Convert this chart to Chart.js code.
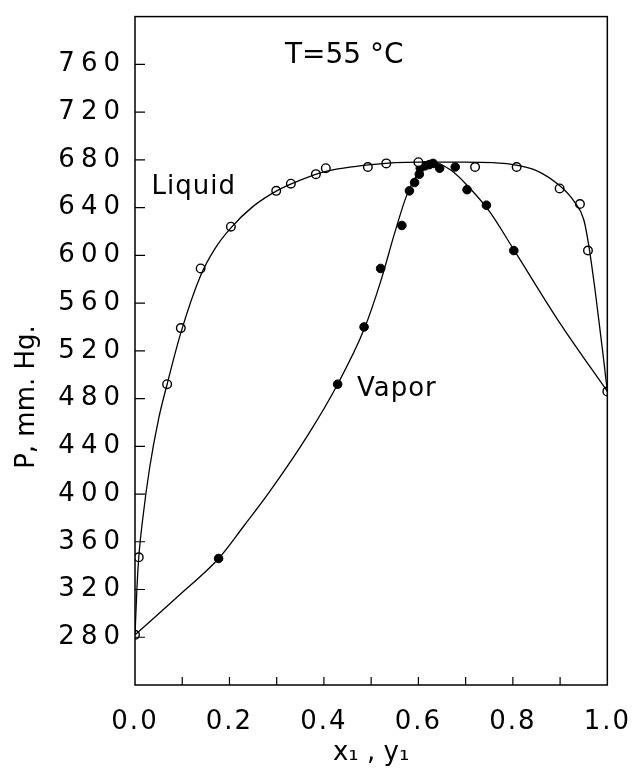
<!DOCTYPE html>
<html>
<head>
<meta charset="utf-8">
<script src="https://cdn.jsdelivr.net/npm/chart.js@4/dist/chart.umd.min.js"></script>
<style>
  body { margin: 0; background: #fff; }
  canvas { display: block; }
</style>
</head>
<body>
<canvas id="vleChart" width="642" height="769"></canvas>
<script>
// measured points, T = 55 C
const liquidX = [0.0, 0.008, 0.068, 0.097, 0.139, 0.203, 0.299, 0.330, 0.383, 0.404, 0.493, 0.532, 0.600, 0.720, 0.808, 0.899, 0.942, 0.959, 1.0];
const liquidP = [282, 347, 492, 539, 589, 624, 654, 660, 668, 673, 674, 677, 678, 674, 674, 656, 643, 604, 486];

const vaporX = [0.177, 0.429, 0.485, 0.520, 0.565, 0.581, 0.592, 0.602, 0.604, 0.614, 0.623, 0.631, 0.645, 0.678, 0.703, 0.744, 0.802];
const vaporP = [346, 492, 540, 589, 625, 654, 661, 668, 673, 675, 676, 677, 673, 674, 655, 642, 604];

// drawn curves
const liquidCurveX = [0.0, 0.004, 0.008, 0.016, 0.031, 0.05, 0.068, 0.097, 0.139, 0.17, 0.203, 0.25, 0.30, 0.35, 0.40, 0.50, 0.60, 0.70, 0.80, 0.85, 0.90, 0.93, 0.95, 0.96, 0.975, 0.99, 1.0];
const liquidCurveP = [282, 320, 347, 378, 422, 463, 492, 535, 583, 606, 623, 641, 654, 663, 670, 676, 678, 678, 676, 671, 658, 645, 630, 610, 568, 520, 486];

const vaporCurveX = [0.0, 0.09, 0.177, 0.23, 0.285, 0.367, 0.429, 0.485, 0.52, 0.55, 0.575, 0.595, 0.615, 0.632, 0.645, 0.67, 0.70, 0.75, 0.80, 0.90, 1.0];
const vaporCurveP = [282, 314, 346, 373, 402, 450, 492, 538, 578, 619, 650, 666, 675, 677.5, 676.5, 671, 660, 637, 606, 543, 486];

const xTickLabels = ['0.0', '0.2', '0.4', '0.6', '0.8', '1.0'];
const yTickLabels = [280, 320, 360, 400, 440, 480, 520, 560, 600, 640, 680, 720, 760];

const FONT = "'DejaVu Sans', sans-serif";

function toPoints(xs, ys) {
    return xs.map((x, i) => ({ x: x, y: ys[i] }));
}

// box, inward ticks, labels inside the plot
const framePlugin = {
    id: 'frame',
    beforeDraw(chart) {
        // letter spacing for tick labels (set once per scale)
        ['x', 'y'].forEach(function(id) {
            const s = chart.scales[id];
            if (!s || s._spaced) return;
            const orig = s.drawLabels;
            const sp = id === 'y' ? '6px' : '2px';
            s.drawLabels = function(area) {
                chart.ctx.save();
                chart.ctx.letterSpacing = sp;
                orig.call(this, area);
                chart.ctx.restore();
            };
            s._spaced = true;
        });
    },
    afterDraw(chart) {
        const ctx = chart.ctx;
        const a = chart.chartArea;
        const xs = chart.scales.x, ys = chart.scales.y;
        ctx.save();
        ctx.strokeStyle = '#000';
        ctx.lineWidth = 1.5;
        ctx.strokeRect(a.left, a.top, a.right - a.left, a.bottom - a.top);

        ctx.lineWidth = 1.2;
        ctx.beginPath();
        for (let i = 1; i < 10; i++) {
            const px = xs.getPixelForValue(i / 10);
            ctx.moveTo(px, a.bottom);
            ctx.lineTo(px, a.bottom - 8);
        }
        yTickLabels.forEach(function(v) {
            const py = ys.getPixelForValue(v);
            ctx.moveTo(a.left, py);
            ctx.lineTo(a.left + 10, py);
        });
        ctx.stroke();

        ctx.fillStyle = '#000';
        ctx.textBaseline = 'middle';

        ctx.font = '28px ' + FONT;
        ctx.textAlign = 'center';
        ctx.fillText('T=55 °C', xs.getPixelForValue(0.443), ys.getPixelForValue(767));

        ctx.font = '26px ' + FONT;
        ctx.textAlign = 'left';
        ctx.letterSpacing = '1px';
        ctx.fillText('Liquid', xs.getPixelForValue(0.035), ys.getPixelForValue(657));
        ctx.fillText('Vapor', xs.getPixelForValue(0.47), ys.getPixelForValue(488));
        ctx.letterSpacing = '0px';

        // y axis title, sits below the middle of the axis in the figure
        ctx.translate(27, 397);
        ctx.rotate(-Math.PI / 2);
        ctx.textAlign = 'center';
        ctx.font = '26px ' + FONT;
        ctx.fillText('P, mm. Hg.', 0, 0);
        ctx.restore();
    }
};

const ctx = document.getElementById('vleChart').getContext('2d');
const vleChart = new Chart(ctx, {
    type: 'scatter',
    data: {
        datasets: [
            {
                label: 'Liquid curve',
                data: toPoints(liquidCurveX, liquidCurveP),
                showLine: true,
                borderColor: '#000',
                borderWidth: 1.3,
                pointRadius: 0,
                cubicInterpolationMode: 'monotone'
            },
            {
                label: 'Vapor curve',
                data: toPoints(vaporCurveX, vaporCurveP),
                showLine: true,
                borderColor: '#000',
                borderWidth: 1.3,
                pointRadius: 0,
                cubicInterpolationMode: 'monotone'
            },
            {
                label: 'Liquid',
                data: toPoints(liquidX, liquidP),
                showLine: false,
                pointRadius: 4.3,
                pointBorderWidth: 1.4,
                pointBackgroundColor: '#fff',
                pointBorderColor: '#000'
            },
            {
                label: 'Vapor',
                data: toPoints(vaporX, vaporP),
                showLine: false,
                pointRadius: 4.3,
                pointBorderWidth: 1,
                pointBackgroundColor: '#000',
                pointBorderColor: '#000'
            }
        ]
    },
    options: {
        responsive: false,
        animation: false,
        layout: { padding: { top: 13, right: 22, left: 0, bottom: 0 } },
        plugins: {
            legend: { display: false },
            tooltip: { enabled: false }
        },
        scales: {
            x: {
                type: 'linear',
                min: 0,
                max: 1,
                afterFit: function(scale) { scale.height = 84; },
                grid: { display: false },
                border: { display: false },
                ticks: {
                    stepSize: 0.2,
                    padding: 14,
                    color: '#000',
                    font: { family: FONT, size: 26 },
                    maxRotation: 0,
                    autoSkip: false,
                    callback: function(v) {
                        return xTickLabels[Math.round(v * 5)];
                    }
                },
                title: {
                    display: true,
                    text: 'x\u2081 , y\u2081',
                    color: '#000',
                    font: { family: FONT, size: 26 },
                    padding: { top: 6, bottom: 0 }
                }
            },
            y: {
                type: 'linear',
                min: 240,
                max: 800,
                afterFit: function(scale) { scale.width = 135; },
                grid: { display: false },
                border: { display: false },
                ticks: {
                    stepSize: 40,
                    padding: 1,
                    color: '#000',
                    font: { family: FONT, size: 26 },
                    autoSkip: false,
                    callback: function(v) {
                        return yTickLabels.indexOf(v) >= 0 ? String(v) : '';
                    }
                }
            }
        }
    },
    plugins: [framePlugin]
});
</script>
</body>
</html>
